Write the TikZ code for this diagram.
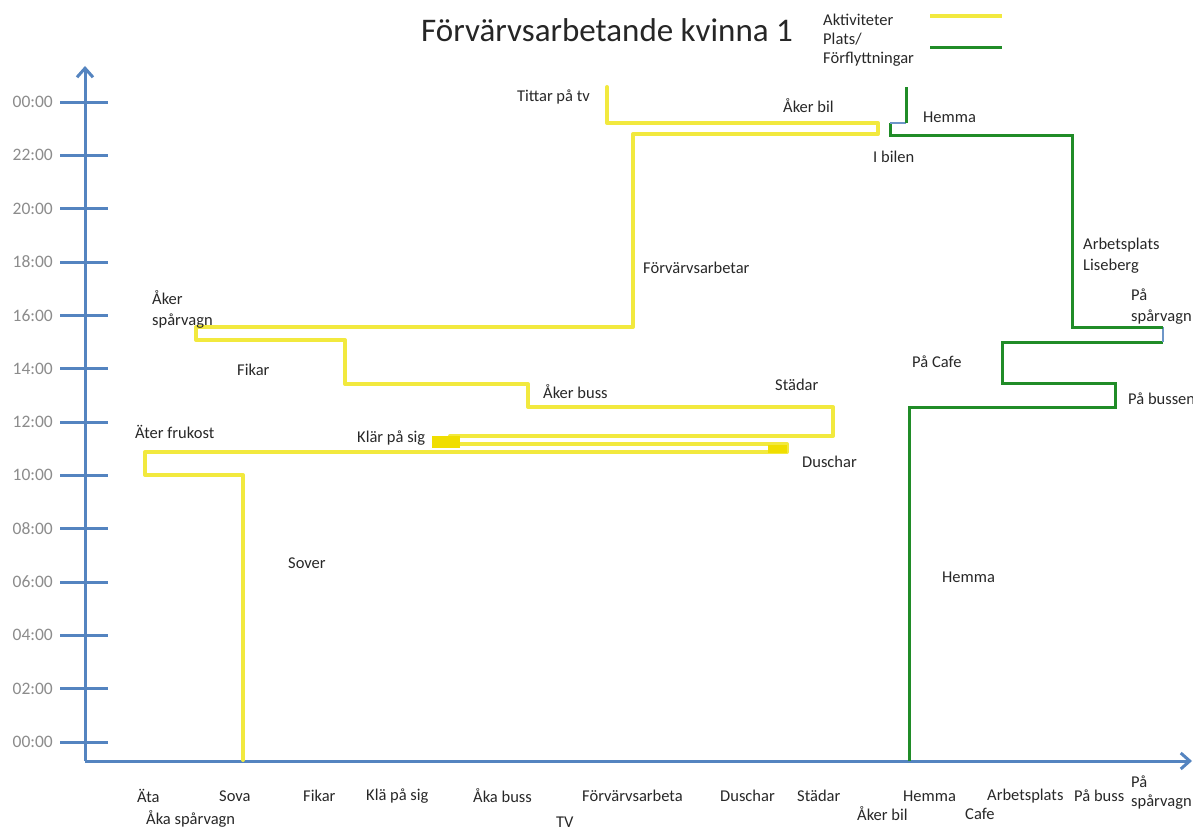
\documentclass[tikz,border=0pt]{standalone}
\usepackage{fontspec}
\setmainfont{Carlito}
\usetikzlibrary{arrows.meta}
\definecolor{axisblue}{RGB}{84,132,192}
\definecolor{actyellow}{RGB}{242,233,62}
\definecolor{blockyellow}{RGB}{240,222,0}
\definecolor{placegreen}{RGB}{32,140,40}
\definecolor{linkblue}{RGB}{110,150,200}
\definecolor{ticktext}{RGB}{140,140,140}
\definecolor{labeltext}{RGB}{40,40,40}
\tikzset{
  axisline/.style={draw=axisblue, line width=3pt},
  tickline/.style={draw=axisblue, line width=3pt},
  ticklabel/.style={anchor=east, text=ticktext, font=\fontsize{17.5}{20}\selectfont, inner sep=0pt},
  actline/.style={draw=actyellow, line width=4pt, line join=round, line cap=round},
  placeline/.style={draw=placegreen, line width=3pt, line join=miter},
  linkline/.style={draw=linkblue, line width=2pt},
  lbl/.style={anchor=west, text=labeltext, font=\fontsize{16.5}{21}\selectfont, inner sep=0pt, align=left},
  catlbl/.style={anchor=west, text=labeltext, font=\fontsize{16.5}{19}\selectfont, inner sep=0pt, align=left},
  legendtext/.style={anchor=west, text=labeltext, font=\fontsize{16.5}{19}\selectfont, inner sep=0pt},
}
\begin{document}
\begin{tikzpicture}[x=1pt,y=-1pt]
\useasboundingbox[fill=white] (0,0) rectangle (1193,832);

% title and legend
\node[font=\fontsize{33}{36}\selectfont, text=black!85, anchor=center] (title) at (607,30) {Förvärvsarbetande kvinna 1};
\node[legendtext] (legA) at (823,20) {Aktiviteter};
\node[legendtext] (legP) at (823,39) {Plats/};
\node[legendtext] (legF) at (823,59) {Förflyttningar};
\coordinate (ly1) at (930,16); \coordinate (ly2) at (1002,16);
\coordinate (lg1) at (930,48); \coordinate (lg2) at (1002,48);
\draw[actline, line cap=butt] (ly1) -- (ly2);
\draw[placeline] (lg1) -- (lg2);

% axes
\coordinate (origin) at (85,761);
\coordinate (ytop) at (85,66);
\coordinate (xend) at (1192,761);
\draw[axisline, -{Straight Barb[length=9pt,width=16pt,line width=3pt]}] (origin) -- (ytop);
\draw[axisline, -{Straight Barb[length=9pt,width=16pt,line width=3pt]}] (origin) -- (xend);

% ticks
\foreach \lab [count=\i from 0] in {00:00,02:00,04:00,06:00,08:00,10:00,12:00,14:00,16:00,18:00,20:00,22:00,00:00}{
  \pgfmathsetmacro{\yy}{742-53.33*\i}
  \draw[tickline] (60,\yy) -- (108,\yy);
  \node[ticklabel] (tick\i) at (53,\yy) {\lab};
}

% activities path (yellow)
\draw[actline] (243,760) -- (243,475) -- (145,475) -- (145,452) -- (787,452) -- (787,444)
  -- (450,444) -- (450,436) -- (833,436) -- (833,407) -- (528,407) -- (528,384)
  -- (345,384) -- (345,340) -- (196,340) -- (196,327) -- (633,327) -- (633,134)
  -- (878,134) -- (878,123) -- (607,123) -- (607,87);
\fill[blockyellow] (432,436) rectangle (460,448);
\fill[blockyellow] (768,445) rectangle (787,453);

% places path (green)
\draw[placeline] (909,761) -- (909,407) -- (1115,407) -- (1115,383) -- (1002,383) -- (1002,342) -- (1163,342);
\draw[linkline] (1163,342) -- (1163,327);
\draw[placeline] (1163,327) -- (1072,327) -- (1072,135) -- (890,135) -- (890,123);
\draw[linkline] (890,123) -- (906,123);
\draw[placeline] (906,123) -- (906,87);

% labels in the plot
\node[lbl, anchor=east] (tv) at (590,97) {Tittar på tv};
\node[lbl] (bil) at (783,106) {Åker bil};
\node[lbl] (hemma1) at (923,117) {Hemma};
\node[lbl] (ibilen) at (873,157) {I bilen};
\node[lbl] (forv) at (643,268) {Förvärvsarbetar};
\node[lbl] (arb) at (1083,256) {Arbetsplats\\Liseberg};
\node[lbl] (spar) at (152,309) {Åker\\spårvagn};
\node[lbl] (pasp) at (1131,307) {På\\spårvagn};
\node[lbl] (fikar) at (237,370) {Fikar};
\node[lbl] (cafe) at (912,362) {På Cafe};
\node[lbl] (buss) at (543,392) {Åker buss};
\node[lbl] (stadar) at (775,385) {Städar};
\node[lbl] (pabuss) at (1128,399) {På bussen};
\node[lbl] (frukost) at (135,432) {Äter frukost};
\node[lbl] (klar) at (357,438) {Klär på sig};
\node[lbl] (dusch) at (802,462) {Duschar};
\node[lbl] (sover) at (288,563) {Sover};
\node[lbl] (hemma2) at (942,577) {Hemma};

% category labels under the x axis
\node[catlbl] (c1) at (137,796) {Äta};
\node[catlbl] (c2) at (219,796) {Sova};
\node[catlbl] (c3) at (303,796) {Fikar};
\node[catlbl] (c4) at (366,796) {Klä på sig};
\node[catlbl] (c5) at (473,796) {Åka buss};
\node[catlbl] (c6) at (582,796) {Förvärvsarbeta};
\node[catlbl] (c7) at (720,796) {Duschar};
\node[catlbl] (c8) at (797,796) {Städar};
\node[catlbl] (c9) at (903,796) {Hemma};
\node[catlbl] (c10) at (987,796) {Arbetsplats};
\node[catlbl] (c11) at (1074,796) {På buss};
\node[catlbl] (c12) at (1131,793) {På\\spårvagn};
\node[catlbl] (c13) at (146,819) {Åka spårvagn};
\node[catlbl] (c14) at (556,822) {TV};
\node[catlbl] (c15) at (857,814) {Åker bil};
\node[catlbl] (c16) at (965,814) {Cafe};
\end{tikzpicture}
\end{document}
